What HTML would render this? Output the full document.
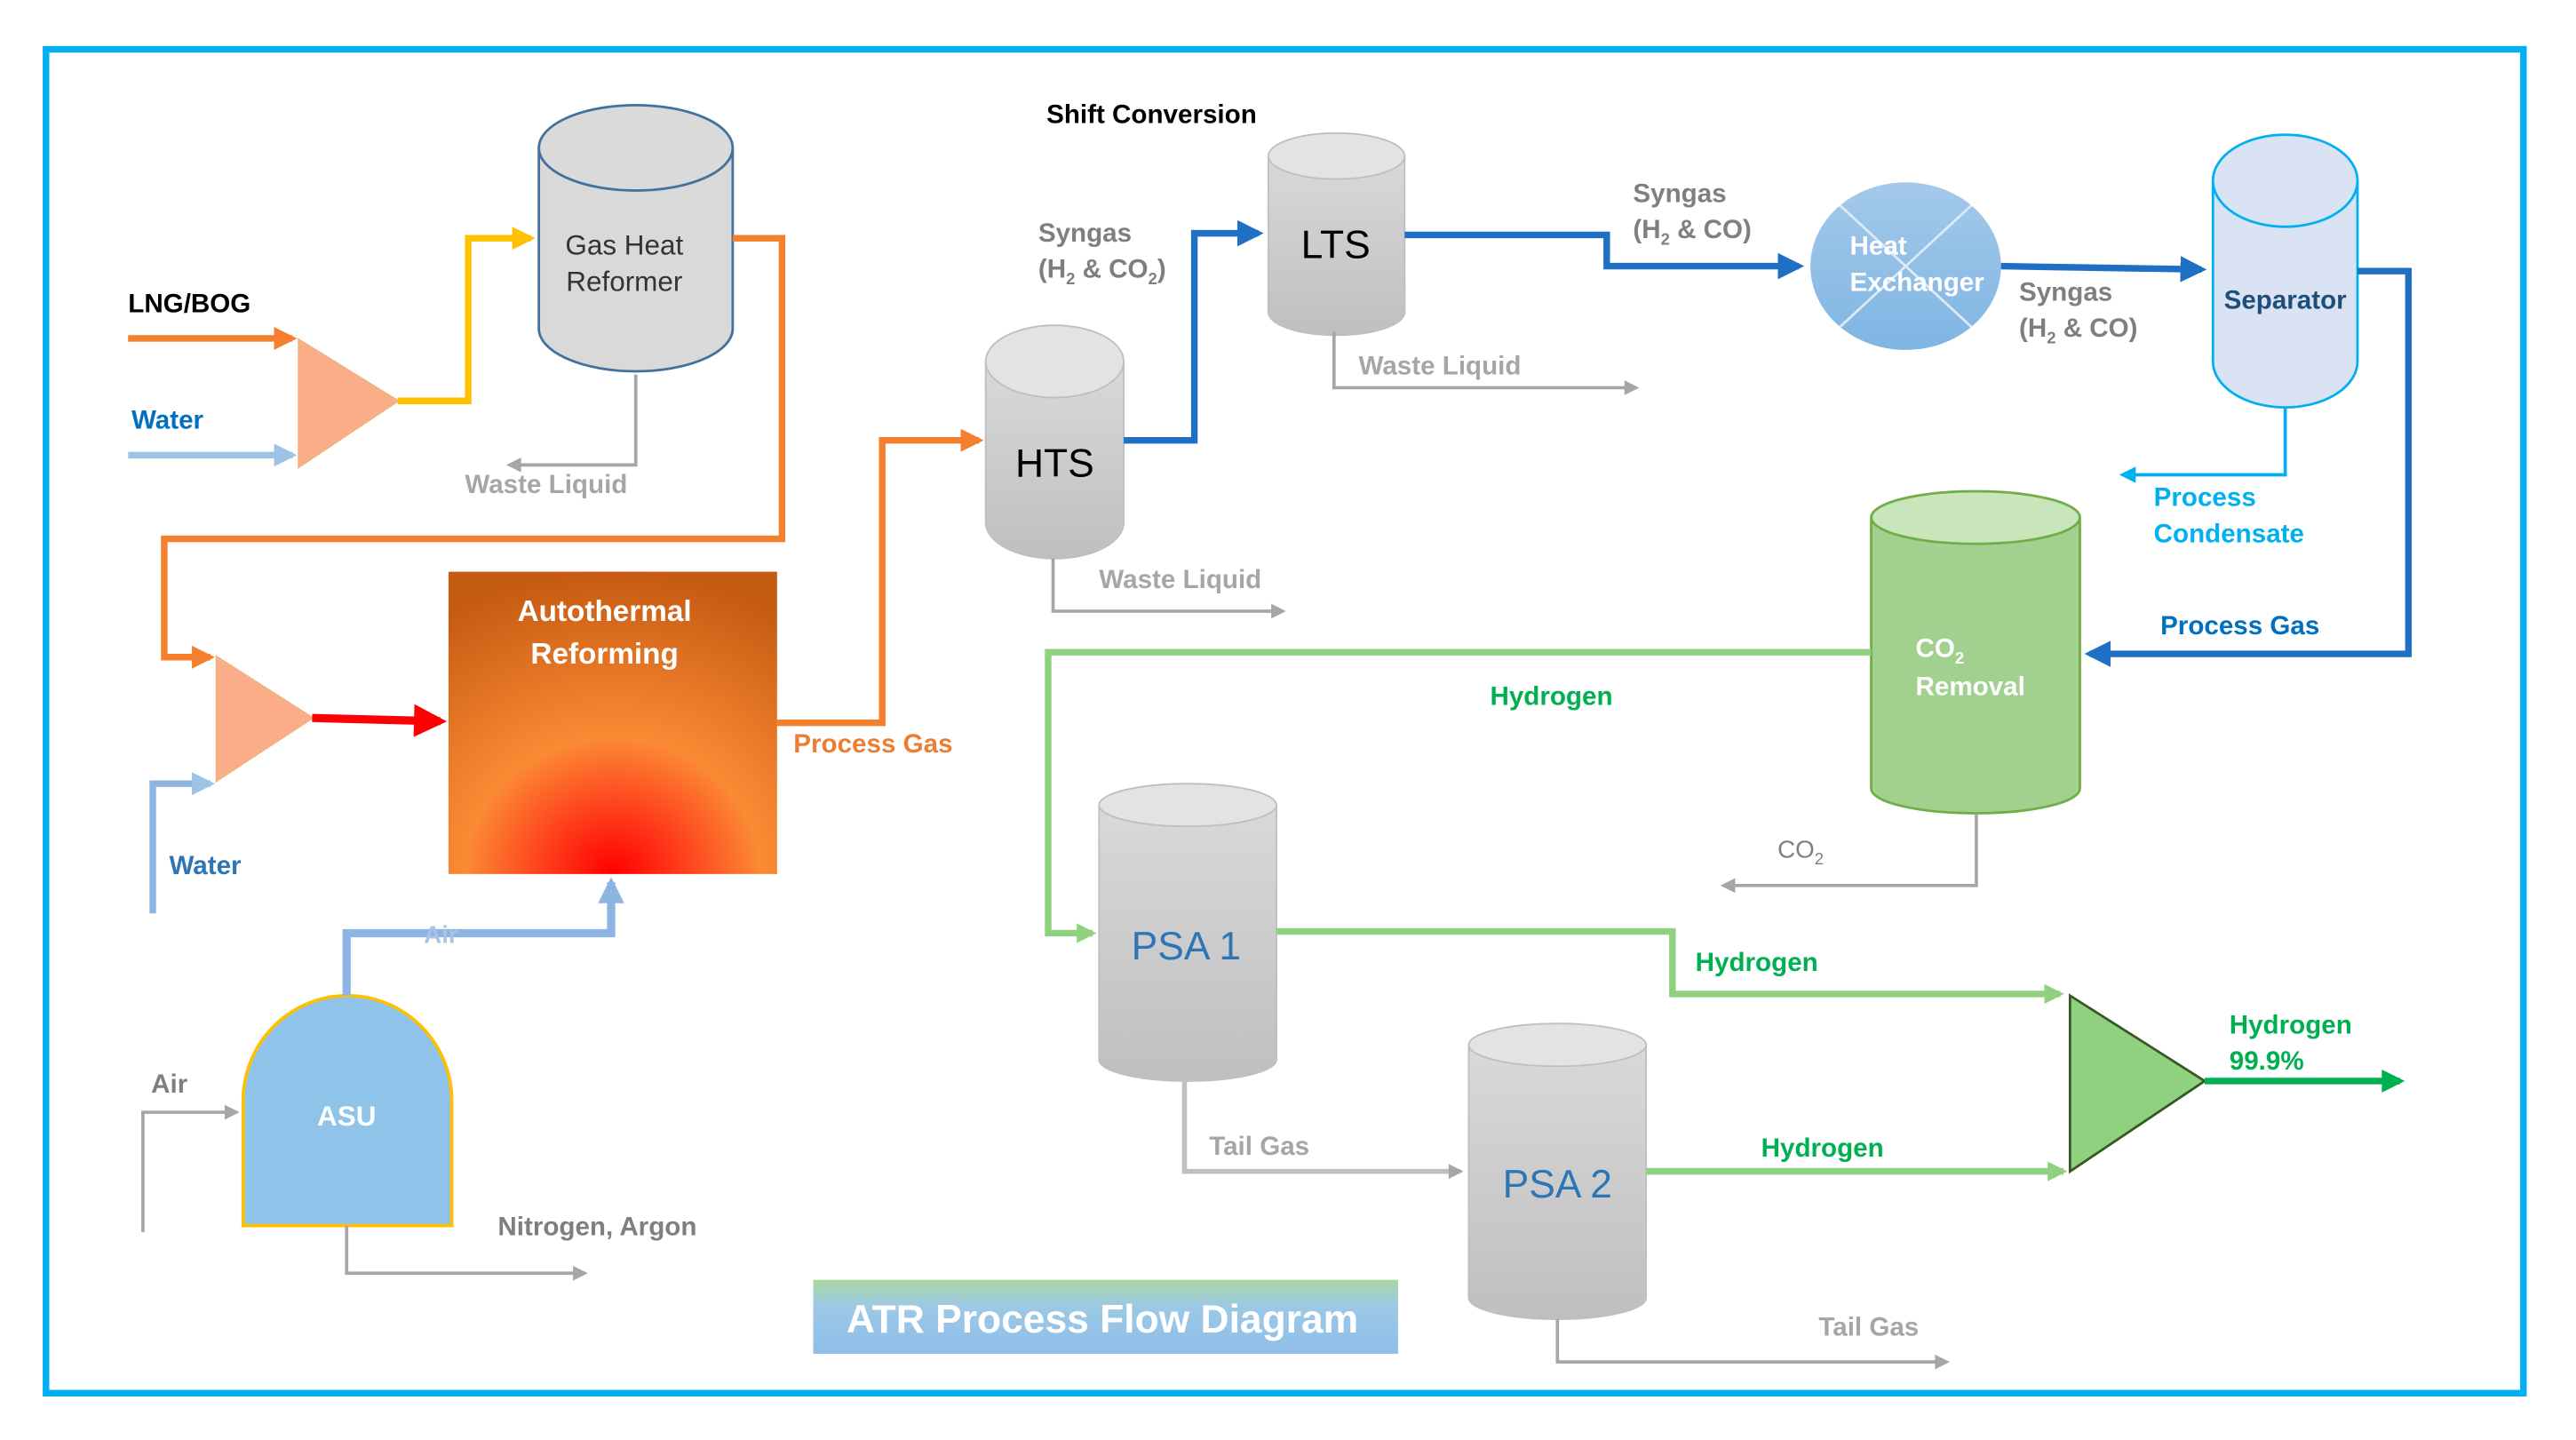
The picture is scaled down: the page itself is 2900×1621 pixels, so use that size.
<!DOCTYPE html>
<html><head><meta charset="utf-8"><style>
html,body{margin:0;padding:0;background:#fff}
svg{display:block}
text{font-family:"Liberation Sans",sans-serif}
.b{font-weight:bold}
</style></head><body>
<svg width="2900" height="1621" viewBox="0 0 1568 876.5" preserveAspectRatio="none" xmlns="http://www.w3.org/2000/svg">
<defs>
<marker id="mo" viewBox="0 0 10 10" refX="8" refY="5" markerUnits="userSpaceOnUse" markerWidth="14" markerHeight="16" orient="auto"><path d="M0,0L10,5L0,10z" fill="#f47f2c"/></marker>
<marker id="my" viewBox="0 0 10 10" refX="8" refY="5" markerUnits="userSpaceOnUse" markerWidth="14" markerHeight="16" orient="auto"><path d="M0,0L10,5L0,10z" fill="#ffc000"/></marker>
<marker id="mlb" viewBox="0 0 10 10" refX="8" refY="5" markerUnits="userSpaceOnUse" markerWidth="14" markerHeight="16" orient="auto"><path d="M0,0L10,5L0,10z" fill="#9dc3e6"/></marker>
<marker id="mlb2" viewBox="0 0 10 10" refX="8" refY="5" markerUnits="userSpaceOnUse" markerWidth="16" markerHeight="20" orient="auto"><path d="M0,0L10,5L0,10z" fill="#8eb4e3"/></marker>
<marker id="mb" viewBox="0 0 10 10" refX="8" refY="5" markerUnits="userSpaceOnUse" markerWidth="16" markerHeight="18" orient="auto"><path d="M0,0L10,5L0,10z" fill="#1f6fc5"/></marker>
<marker id="mr" viewBox="0 0 10 10" refX="8" refY="5" markerUnits="userSpaceOnUse" markerWidth="22" markerHeight="20" orient="auto"><path d="M0,0L10,5L0,10z" fill="#ff0000"/></marker>
<marker id="mg" viewBox="0 0 10 10" refX="8" refY="5" markerUnits="userSpaceOnUse" markerWidth="10" markerHeight="9" orient="auto"><path d="M0,0L10,5L0,10z" fill="#a6a6a6"/></marker>
<marker id="mc" viewBox="0 0 10 10" refX="8" refY="5" markerUnits="userSpaceOnUse" markerWidth="10" markerHeight="10" orient="auto"><path d="M0,0L10,5L0,10z" fill="#00b0f0"/></marker>
<marker id="mgr" viewBox="0 0 10 10" refX="8" refY="5" markerUnits="userSpaceOnUse" markerWidth="13" markerHeight="12" orient="auto"><path d="M0,0L10,5L0,10z" fill="#8fd17e"/></marker>
<marker id="mdg" viewBox="0 0 10 10" refX="8" refY="5" markerUnits="userSpaceOnUse" markerWidth="16" markerHeight="14" orient="auto"><path d="M0,0L10,5L0,10z" fill="#00b050"/></marker>
<linearGradient id="gray" x1="0" x2="0" y1="0" y2="1"><stop offset="0" stop-color="#d9d9d9"/><stop offset="1" stop-color="#bfbfbf"/></linearGradient>
<radialGradient id="atr" cx="0.5" cy="1" r="1" fx="0.5" fy="1"><stop offset="0" stop-color="#ff0000"/><stop offset="0.2" stop-color="#ff3a1a"/><stop offset="0.45" stop-color="#fb8a34"/><stop offset="1" stop-color="#c55a11"/></radialGradient>
<linearGradient id="title" x1="0" x2="0" y1="0" y2="1"><stop offset="0" stop-color="#a9d8a0"/><stop offset="0.35" stop-color="#9dc9e6"/><stop offset="1" stop-color="#8fbde8"/></linearGradient>
<linearGradient id="hx" x1="0" x2="0" y1="0" y2="1"><stop offset="0" stop-color="#a4c9ea"/><stop offset="1" stop-color="#7fb5e3"/></linearGradient>
</defs>

<rect x="28" y="30" width="1508" height="818" fill="none" stroke="#00b0f0" stroke-width="4"/>

<path d="M328,90 L328,200 A59,26 0 0 0 446,200 L446,90" fill="#d9d9d9" stroke="#41719c" stroke-width="1.5"/>
<ellipse cx="387" cy="90" rx="59" ry="26" fill="#dadada" stroke="#41719c" stroke-width="1.5"/>
<text x="380" y="155" font-size="17" text-anchor="middle" fill="#333">Gas Heat</text>
<text x="380" y="177" font-size="17" text-anchor="middle" fill="#333">Reformer</text>

<text x="78" y="190" font-size="16" class="b" fill="#000">LNG/BOG</text>
<line x1="78" y1="206" x2="178" y2="206" stroke="#f47f2c" stroke-width="4" marker-end="url(#mo)"/>
<text x="80" y="261" font-size="16" class="b" fill="#0070c0">Water</text>
<line x1="78" y1="277" x2="178" y2="277" stroke="#9dc3e6" stroke-width="4" marker-end="url(#mlb)"/>
<polygon points="182,207 242,244 182,284" fill="#fbac88" stroke="#f4b183" stroke-width="1.5"/>
<polyline points="242,244 285,244 285,145 323,145" fill="none" stroke="#ffc000" stroke-width="4" marker-end="url(#my)"/>
<polyline points="387,228 387,283 310,283" fill="none" stroke="#a6a6a6" stroke-width="2" marker-end="url(#mg)"/>
<text x="283" y="300" font-size="16" class="b" fill="#a6a6a6">Waste Liquid</text>

<polyline points="446,145 476,145 476,328 100,328 100,400 128,400" fill="none" stroke="#f47f2c" stroke-width="4" marker-end="url(#mo)"/>
<polygon points="132,400 190,437 132,475" fill="#fbac88" stroke="#f4b183" stroke-width="1.5"/>
<polyline points="93,556 93,477 128,477" fill="none" stroke="#8eb4e3" stroke-width="4" marker-end="url(#mlb)"/>
<text x="103" y="532" font-size="16" class="b" fill="#2e75b6">Water</text>
<line x1="190" y1="437" x2="268" y2="439" stroke="#ff0000" stroke-width="5" marker-end="url(#mr)"/>

<rect x="273" y="348" width="200" height="184" fill="url(#atr)"/>
<text x="368" y="378" font-size="18" class="b" text-anchor="middle" fill="#fff">Autothermal</text>
<text x="368" y="404" font-size="18" class="b" text-anchor="middle" fill="#fff">Reforming</text>

<polyline points="473,440 537,440 537,268 596,268" fill="none" stroke="#f47f2c" stroke-width="4" marker-end="url(#mo)"/>
<text x="483" y="458" font-size="16" class="b" fill="#ed7d31">Process Gas</text>

<path d="M600,220 L600,318 A42,22 0 0 0 684,318 L684,220" fill="url(#gray)" stroke="#bfbfbf"/>
<ellipse cx="642" cy="220" rx="42" ry="22" fill="#e3e3e3" stroke="#bfbfbf"/>
<text x="642" y="290" font-size="24" text-anchor="middle" fill="#000">HTS</text>
<polyline points="641,340 641,372 781,372" fill="none" stroke="#a6a6a6" stroke-width="2" marker-end="url(#mg)"/>
<text x="669" y="358" font-size="16" class="b" fill="#a6a6a6">Waste Liquid</text>

<polyline points="684,268 727,268 727,142 766,142" fill="none" stroke="#1f6fc5" stroke-width="4" marker-end="url(#mb)"/>
<text x="632" y="147" font-size="16" class="b" fill="#7f7f7f">Syngas</text>
<text x="632" y="169" font-size="16" class="b" fill="#7f7f7f">(H<tspan font-size="10" dy="4">2</tspan><tspan dy="-4"> &amp; CO</tspan><tspan font-size="10" dy="4">2</tspan><tspan dy="-4">)</tspan></text>
<text x="637" y="75" font-size="16" class="b" fill="#000">Shift Conversion</text>

<path d="M772,95 L772,190 A41.5,14 0 0 0 855,190 L855,95" fill="url(#gray)" stroke="#bfbfbf"/>
<ellipse cx="813.5" cy="95" rx="41.5" ry="14" fill="#e3e3e3" stroke="#bfbfbf"/>
<text x="813" y="157" font-size="24" text-anchor="middle" fill="#000">LTS</text>
<polyline points="812,202 812,236 996,236" fill="none" stroke="#a6a6a6" stroke-width="2" marker-end="url(#mg)"/>
<text x="827" y="228" font-size="16" class="b" fill="#a6a6a6">Waste Liquid</text>

<polyline points="855,143 978,143 978,162 1095,162" fill="none" stroke="#1f6fc5" stroke-width="4" marker-end="url(#mb)"/>
<text x="994" y="123" font-size="16" class="b" fill="#7f7f7f">Syngas</text>
<text x="994" y="145" font-size="16" class="b" fill="#7f7f7f">(H<tspan font-size="10" dy="4">2</tspan><tspan dy="-4"> &amp; CO)</tspan></text>

<ellipse cx="1160" cy="162" rx="58" ry="51" fill="url(#hx)"/>
<line x1="1120" y1="125" x2="1200" y2="199" stroke="#dce9f6" stroke-width="1.5"/>
<line x1="1200" y1="125" x2="1120" y2="199" stroke="#dce9f6" stroke-width="1.5"/>
<text x="1126" y="155" font-size="16" class="b" fill="#fff">Heat</text>
<text x="1126" y="177" font-size="16" class="b" fill="#fff">Exchanger</text>

<line x1="1218" y1="162" x2="1340" y2="164" stroke="#1f6fc5" stroke-width="4" marker-end="url(#mb)"/>
<text x="1229" y="183" font-size="16" class="b" fill="#7f7f7f">Syngas</text>
<text x="1229" y="205" font-size="16" class="b" fill="#7f7f7f">(H<tspan font-size="10" dy="4">2</tspan><tspan dy="-4"> &amp; CO)</tspan></text>

<path d="M1347,110 L1347,220 A44,28 0 0 0 1435,220 L1435,110" fill="#dae3f3" stroke="#00b0f0" stroke-width="1.5"/>
<ellipse cx="1391" cy="110" rx="44" ry="28" fill="#dae3f3" stroke="#00b0f0" stroke-width="1.5"/>
<text x="1391" y="188" font-size="16" class="b" text-anchor="middle" fill="#1f4e79">Separator</text>

<polyline points="1391,248 1391,289 1292,289" fill="none" stroke="#00b0f0" stroke-width="2" marker-end="url(#mc)"/>
<text x="1311" y="308" font-size="16" class="b" fill="#00b0f0">Process</text>
<text x="1311" y="330" font-size="16" class="b" fill="#00b0f0">Condensate</text>

<polyline points="1435,165 1466,165 1466,398 1272,398" fill="none" stroke="#1f6fc5" stroke-width="4" marker-end="url(#mb)"/>
<text x="1315" y="386" font-size="16" class="b" fill="#0070c0">Process Gas</text>

<path d="M1139,315 L1139,480 A63.5,15 0 0 0 1266,480 L1266,315" fill="#a2d08f" stroke="#70ad47" stroke-width="1.5"/>
<ellipse cx="1202.5" cy="315" rx="63.5" ry="16" fill="#c8e5bb" stroke="#70ad47" stroke-width="1.5"/>
<text x="1166" y="400" font-size="16" class="b" fill="#fff">CO<tspan font-size="10" dy="4">2</tspan></text>
<text x="1166" y="423" font-size="16" class="b" fill="#fff">Removal</text>
<polyline points="1203,495 1203,539 1049,539" fill="none" stroke="#a6a6a6" stroke-width="2" marker-end="url(#mg)"/>
<text x="1082" y="522" font-size="15" fill="#7f7f7f">CO<tspan font-size="10" dy="4">2</tspan></text>

<polyline points="1139,397 638,397 638,568 665,568" fill="none" stroke="#8fd17e" stroke-width="4" marker-end="url(#mgr)"/>
<text x="907" y="429" font-size="16" class="b" fill="#00b050">Hydrogen</text>

<path d="M669,490 L669,645 A54,13 0 0 0 777,645 L777,490" fill="url(#gray)" stroke="#bfbfbf"/>
<ellipse cx="723" cy="490" rx="54" ry="13" fill="#e3e3e3" stroke="#bfbfbf"/>
<text x="722" y="584" font-size="24" text-anchor="middle" fill="#2e75b6">PSA 1</text>
<polyline points="777,567 1018,567 1018,605 1254,605" fill="none" stroke="#8fd17e" stroke-width="4" marker-end="url(#mgr)"/>
<text x="1032" y="591" font-size="16" class="b" fill="#00b050">Hydrogen</text>
<polyline points="721,658 721,713 889,713" fill="none" stroke="#bfbfbf" stroke-width="3" marker-end="url(#mg)"/>
<text x="736" y="703" font-size="16" class="b" fill="#a6a6a6">Tail Gas</text>

<path d="M894,636 L894,790 A54,13 0 0 0 1002,790 L1002,636" fill="url(#gray)" stroke="#bfbfbf"/>
<ellipse cx="948" cy="636" rx="54" ry="13" fill="#e3e3e3" stroke="#bfbfbf"/>
<text x="948" y="729" font-size="24" text-anchor="middle" fill="#2e75b6">PSA 2</text>
<line x1="1002" y1="713" x2="1256" y2="713" stroke="#8fd17e" stroke-width="4" marker-end="url(#mgr)"/>
<text x="1072" y="704" font-size="16" class="b" fill="#00b050">Hydrogen</text>
<polyline points="948,803 948,829 1185,829" fill="none" stroke="#a6a6a6" stroke-width="2" marker-end="url(#mg)"/>
<text x="1107" y="813" font-size="16" class="b" fill="#a6a6a6">Tail Gas</text>

<polygon points="1260,606 1342,658 1260,713" fill="#8fd17e" stroke="#385723" stroke-width="1.5"/>
<line x1="1342" y1="658" x2="1461" y2="658" stroke="#00b050" stroke-width="4" marker-end="url(#mdg)"/>
<text x="1357" y="629" font-size="16" class="b" fill="#00b050">Hydrogen</text>
<text x="1357" y="651" font-size="16" class="b" fill="#00b050">99.9%</text>

<path d="M148,746 L148,670 A63.5,64 0 0 1 275,670 L275,746 Z" fill="#8fc3ea" stroke="#ffc000" stroke-width="2"/>
<text x="211" y="685" font-size="17" class="b" text-anchor="middle" fill="#fff">ASU</text>
<polyline points="87,750 87,677 144,677" fill="none" stroke="#a6a6a6" stroke-width="2" marker-end="url(#mg)"/>
<text x="92" y="665" font-size="16" class="b" fill="#7f7f7f">Air</text>
<polyline points="211,606 211,568 372,568 372,537" fill="none" stroke="#8eb4e3" stroke-width="5" marker-end="url(#mlb2)"/>
<text x="258" y="574" font-size="15" class="b" fill="#a9c5e6">Air</text>
<polyline points="211,746 211,775 356,775" fill="none" stroke="#a6a6a6" stroke-width="2" marker-end="url(#mg)"/>
<text x="303" y="752" font-size="16" class="b" fill="#7f7f7f">Nitrogen, Argon</text>

<rect x="495" y="779" width="356" height="45" fill="url(#title)"/>
<text x="671" y="811" font-size="24" class="b" text-anchor="middle" fill="#fff">ATR Process Flow Diagram</text>
</svg>
</body></html>
